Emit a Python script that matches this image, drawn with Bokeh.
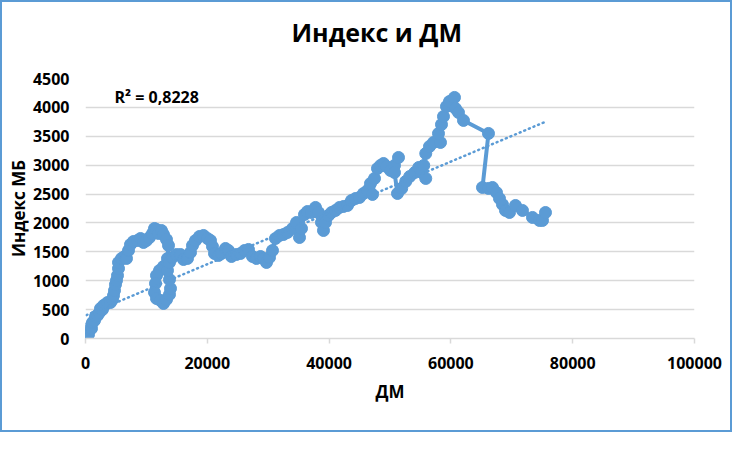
from bokeh.plotting import figure
from bokeh.models import ColumnDataSource, FixedTicker, Label, NumeralTickFormatter, Title
from bokeh.embed import file_html
from bokeh.resources import INLINE

# ---- data ----
dm = [164, 164, 328, 493, 657, 821, 985, 1149, 1478, 1642, 1970, 2299, 2463, 2791, 2956,
      3284, 3612, 4105, 4433, 4598, 4762, 4926, 5090, 5254, 5419, 5419, 5911, 6404, 6732,
      7061, 7389, 7882, 8538, 9031, 9524, 10016, 10509, 11001, 11330, 11658, 11987, 12479,
      12808, 13300, 13629, 13464, 12808, 12151, 11658, 11494, 11330, 11658, 12315, 12808,
      13300, 13793, 13957, 13793, 13464, 13793, 14285, 14942, 15599, 16092, 16748, 17241,
      17569, 18062, 18719, 19376, 20032, 20525, 20853, 21182, 21839, 22331, 22988, 23481,
      23973, 24794, 25451, 26108, 26765, 27421, 28078, 28735, 29228, 29720, 30213, 30705,
      31198, 31855, 32512, 33168, 33989, 34646, 35139, 35467, 35960, 36452, 37109, 37766,
      38259, 38751, 39080, 39408, 39901, 40393, 41050, 41707, 42364, 43020, 43677, 44334,
      44991, 45648, 46304, 46797, 47125, 47457, 47946, 48439, 48932, 49424, 50081, 50738,
      51396, 50738, 51231, 51921, 52587, 53244, 54065, 54721, 55214, 55871, 55543, 55871,
      56485, 57142, 58291, 57963, 58455, 58784, 59276, 59769, 60590, 60754, 61247, 62068,
      66173, 65187, 66173, 66829, 67486, 67979, 68471, 68964, 69621, 70606, 71755, 73397,
      74547, 75039, 75532]
index_mb = [17, 52, 104, 69, 156, 208, 173, 277, 312, 381, 398, 450, 519, 502, 571,
            589, 623, 623, 675, 744, 831, 935, 1004, 1091, 1212, 1316, 1385, 1419, 1385,
            1523, 1627, 1679, 1696, 1731, 1662, 1696, 1748, 1818, 1904, 1887, 1818, 1869,
            1800, 1714, 1610, 1385, 1246, 1177, 1091, 952, 796, 692, 658, 606,
            675, 762, 866, 1021, 1177, 1316, 1402, 1454, 1454, 1367, 1385, 1489,
            1610, 1696, 1766, 1783, 1731, 1696, 1593, 1471, 1437, 1471, 1558, 1523,
            1419, 1454, 1471, 1523, 1541, 1419, 1385, 1419, 1385, 1316, 1402, 1523,
            1731, 1783, 1800, 1835, 1904, 2008, 1748, 1904, 2146, 2198, 2181, 2268,
            2181, 2008, 1869, 2008, 2129, 2181, 2216, 2268, 2285, 2302, 2389, 2423,
            2441, 2510, 2562, 2683, 2493, 2770, 2943, 2995, 3029, 2977, 2908, 2995,
            3133, 2873, 2510, 2597, 2718, 2804, 2873, 2960, 2873, 2770, 2995, 3202,
            3324, 3393, 3393, 3549, 3704, 3843, 4016, 4102, 4172, 3981, 3912, 3774,
            3549, 2614, 2597, 2614, 2527, 2423, 2320, 2216, 2181, 2302, 2216, 2095,
            2043, 2043, 2181]
x_ticks = [0, 20000, 40000, 60000, 80000, 100000]
y_ticks = [0, 500, 1000, 1500, 2000, 2500, 3000, 3500, 4000, 4500]
title_text = "Индекс и ДМ"
x_label = "ДМ"
y_label = "Индекс МБ"
r2_text = "R² = 0,8228"
# linear trend line as shown in the chart (y = intercept + slope * x)
trend_intercept = 398
trend_slope = 0.0444

BLUE = "#5B9BD5"
GRID = "#D9D9D9"
FONT = "Open Sans"

trend_x = [min(dm), max(dm)]
trend_y = [trend_intercept + trend_slope * v for v in trend_x]

p = figure(width=732, height=432, output_backend="svg", toolbar_location=None,
           x_range=(0, 100000), y_range=(0, 4500))
p.min_border_left = 83
p.min_border_right = 40
p.min_border_top = 76
p.min_border_bottom = 96
p.outline_line_color = None
p.background_fill_color = "white"
p.border_fill_color = "white"
p.styles = {"border": f"2px solid {BLUE}"}

p.title.text = title_text
p.title.align = "left"
p.title.offset = 206
p.title.text_font = FONT
p.title.text_font_size = "25px"
p.title.text_font_style = "bold"
p.title.text_color = "black"
p.title.standoff = 0
# empty spacer panel between the title and the plot area
p.add_layout(Title(text=" ", text_font_size="2px", standoff=26), "above")

src = ColumnDataSource(dict(x=dm, y=index_mb))
p.line("x", "y", source=src, line_color=BLUE, line_width=4, line_join="round")
p.scatter("x", "y", source=src, size=12, fill_color=BLUE, line_color=BLUE)
p.line(trend_x, trend_y, line_color=BLUE, line_width=2.5, line_dash="1 4", line_cap="round")

p.add_layout(Label(x=4762, y=4180, text=r2_text, text_font=FONT, text_font_size="16px",
                   text_font_style="bold", text_color="black", text_baseline="alphabetic"))

# axes
p.xaxis.ticker = FixedTicker(ticks=x_ticks)
p.yaxis.ticker = FixedTicker(ticks=y_ticks)
p.xaxis.formatter = NumeralTickFormatter(format="0")
p.yaxis.formatter = NumeralTickFormatter(format="0")
p.xaxis.minor_tick_line_color = None
p.yaxis.minor_tick_line_color = None
p.xaxis.axis_line_color = GRID
p.xaxis.axis_line_width = 1.5
p.xaxis.major_tick_line_color = GRID
p.xaxis.major_tick_line_width = 1.5
p.xaxis.major_tick_in = 0
p.xaxis.major_tick_out = 5
p.yaxis.axis_line_color = None
p.yaxis.major_tick_line_color = None
p.yaxis.major_tick_in = 0
p.yaxis.major_tick_out = 0
for ax in (p.xaxis, p.yaxis):
    ax.major_label_text_font = FONT
    ax.major_label_text_font_size = "16px"
    ax.major_label_text_font_style = "bold"
    ax.major_label_text_color = "black"
    ax.axis_label_text_font = FONT
    ax.axis_label_text_font_size = "17px"
    ax.axis_label_text_font_style = "bold"
    ax.axis_label_text_color = "black"
p.xaxis.major_label_standoff = 13
p.yaxis.major_label_standoff = 16
p.xaxis.axis_label = x_label
p.yaxis.axis_label = y_label
p.xaxis.axis_label_standoff = 8
p.yaxis.axis_label_standoff = 0

p.xgrid.grid_line_color = None
p.ygrid.grid_line_color = GRID
p.ygrid.grid_line_width = 1.5

open("out.html", "w").write(file_html(p, INLINE))
